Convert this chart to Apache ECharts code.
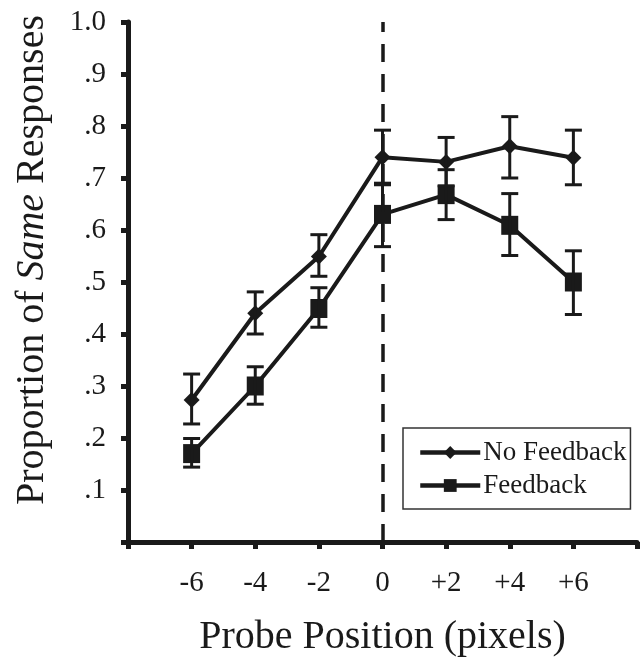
<!DOCTYPE html>
<html><head><meta charset="utf-8">
<script src="https://cdn.jsdelivr.net/npm/echarts@6/dist/echarts.min.js"></script>
<style>html,body{margin:0;padding:0;background:#fff}#c{width:640px;height:662px}</style>
</head><body><div id="c"></div>
<script>
const positions = [-6, -4, -2, 0, 2, 4, 6];
const xTickLabels = {'-6':'-6','-4':'-4','-2':'-2','0':'0','2':'+2','4':'+4','6':'+6'};
const yTickLabels = {'0.1':'.1','0.2':'.2','0.3':'.3','0.4':'.4','0.5':'.5','0.6':'.6','0.7':'.7','0.8':'.8','0.9':'.9','1':'1.0'};
const noFeedback     = [0.273, 0.44, 0.549, 0.74, 0.731, 0.761, 0.739];
const noFeedbackLow  = [0.227, 0.40, 0.511, 0.69, 0.685, 0.70, 0.687];
const noFeedbackHigh = [0.323, 0.481, 0.591, 0.792, 0.778, 0.818, 0.792];
const feedback       = [0.17, 0.30, 0.449, 0.63, 0.668, 0.609, 0.50];
const feedbackLow    = [0.144, 0.265, 0.413, 0.568, 0.620, 0.551, 0.4375];
const feedbackHigh   = [0.199, 0.337, 0.489, 0.687, 0.716, 0.670, 0.56];

const FONT = '"Liberation Serif", "DejaVu Serif", serif';
const INK = '#1a1a1a';

function errData(lo, hi) { return positions.map((x, i) => [x, lo[i], hi[i]]); }
function errRender(params, api) {
  const x = api.value(0);
  const lo = api.coord([x, api.value(1)]);
  const hi = api.coord([x, api.value(2)]);
  const hw = 8.5;
  const st = { stroke: INK, lineWidth: 3 };
  return { type: 'group', children: [
    { type: 'line', shape: { x1: lo[0], y1: lo[1], x2: hi[0], y2: hi[1] }, style: st },
    { type: 'line', shape: { x1: lo[0]-hw, y1: lo[1], x2: lo[0]+hw, y2: lo[1] }, style: st },
    { type: 'line', shape: { x1: hi[0]-hw, y1: hi[1], x2: hi[0]+hw, y2: hi[1] }, style: st }
  ]};
}

const chart = echarts.init(document.getElementById('c'), null, { renderer: 'canvas' });
chart.setOption({
  animation: false,
  backgroundColor: '#fff',
  grid: { left: 128, top: 22, width: 511, height: 528, containLabel: false },
  legend: {
    data: ['No Feedback', 'Feedback'],
    orient: 'vertical',
    left: 403, top: 428,
    padding: [11, 4, 10, 15],
    itemGap: 6,
    itemWidth: 60, itemHeight: 16,
    borderColor: '#333', borderWidth: 1.5,
    backgroundColor: '#fff',
    lineStyle: { width: 4.5, color: INK },
    textStyle: { fontFamily: FONT, fontSize: 27, color: INK, padding: [0, 0, 0, -2] }
  },
  xAxis: {
    type: 'value', min: -8, max: 8, interval: 2,
    name: 'Probe Position (pixels)', nameLocation: 'middle', nameGap: 75,
    nameTextStyle: { fontFamily: FONT, fontSize: 40, color: INK },
    axisLine: { onZero: false, lineStyle: { color: INK, width: 5 } },
    axisTick: { length: 7, lineStyle: { color: INK, width: 5 } },
    axisLabel: { margin: 27, fontFamily: FONT, fontSize: 29, color: INK,
      formatter: v => xTickLabels[String(v)] || '' },
    splitLine: { show: false }
  },
  yAxis: {
    type: 'value', min: 0, max: 1, interval: 0.1,
    name: '{a|Proportion of }{b|Same}{a| Responses}', nameLocation: 'middle', nameGap: 76, nameRotate: 90,
    nameTextStyle: { padding: [0, 0, 0, 44],
      rich: { a: { fontFamily: FONT, fontSize: 40, color: INK }, b: { fontFamily: FONT, fontSize: 40, color: INK, fontStyle: 'italic' } } },
    axisLine: { onZero: false, lineStyle: { color: INK, width: 5 } },
    axisTick: { length: 7, lineStyle: { color: INK, width: 5 } },
    axisLabel: { margin: 22, fontFamily: FONT, fontSize: 29, color: INK,
      formatter: v => yTickLabels[String(Math.round(v * 10) / 10)] || '' },
    splitLine: { show: false }
  },
  series: [
    {
      name: 'No Feedback', type: 'line', data: positions.map((x, i) => [x, noFeedback[i]]),
      symbol: 'diamond', symbolSize: [16, 16], z: 3,
      lineStyle: { color: INK, width: 4 }, itemStyle: { color: INK },
      markLine: { silent: true, symbol: 'none', label: { show: false },
        lineStyle: { color: INK, width: 3.5, type: [18, 12] },
        data: [{ xAxis: 0 }] }
    },
    {
      name: 'Feedback', type: 'line', data: positions.map((x, i) => [x, feedback[i]]),
      symbol: 'rect', symbolSize: [17, 19], z: 3,
      lineStyle: { color: INK, width: 4 }, itemStyle: { color: INK }
    },
    { type: 'custom', renderItem: errRender, data: errData(noFeedbackLow, noFeedbackHigh), encode: { x: 0, y: [1, 2] }, z: 4 },
    { type: 'custom', renderItem: errRender, data: errData(feedbackLow, feedbackHigh), encode: { x: 0, y: [1, 2] }, z: 4 }
  ]
});
</script>
</body></html>
